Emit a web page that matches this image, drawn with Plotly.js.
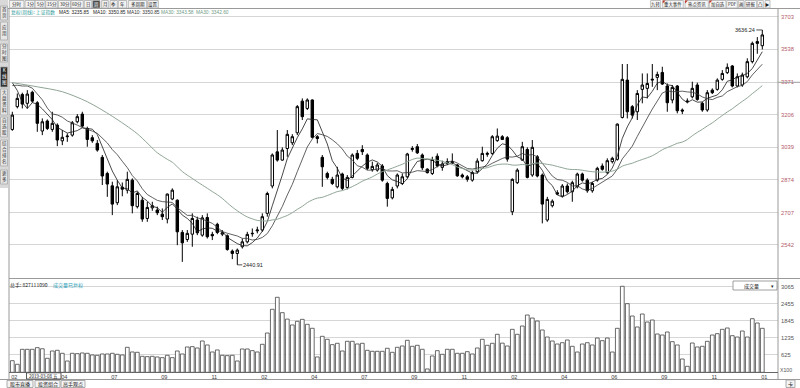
<!DOCTYPE html>
<html><head><meta charset="utf-8">
<script src="https://cdn.plot.ly/plotly-3.0.1.min.js"></script>
<style>html,body{margin:0;padding:0;background:#fff;}#chart{width:800px;height:388px;}</style>
</head><body><div id="chart"></div>
<script>
// ---- weekly OHLC (上证指数, weekly) ----
const open = [3130,3246,3308,3263,3319,3266,3122,3173,3130,3152,
3072,3093,3101,3169,3208,3135,3088,3059,2988,2906,
2843,2757,2836,2821,2872,2737,2770,2677,2731,2720,
2699,2674,2776,2770,2606,2570,2597,2669,2592,2682,
2596,2647,2597,2589,2511,2499,2533,2558,2599,2614,
2618,2703,2842,3016,2974,3033,3062,3113,3274,3237,
3280,3093,2988,2906,2876,2838,2903,2835,2886,3008,
3028,3000,2925,2923,2944,2855,2782,2842,2855,2889,
3028,3042,3000,2928,2906,2994,2937,2957,2961,2949,
2898,2889,2872,2915,2971,3003,3008,3073,3093,3088,
2711,2859,2974,3028,2898,2991,2898,2669,2742,2808,
2791,2842,2813,2838,2903,2872,2818,2872,2944,2910,
2966,2978,3191,3381,3246,3220,3334,3339,3381,3395,
3420,3351,3280,3351,3229,3271,3296,3356,3263,3229,
3330,3334,3385,3419,3453,3351,3356,3398,3475,3577,3556];
const high = [3220,3313,3317,3330,3327,3274,3186,3181,3220,3161,
3127,3110,3173,3208,3220,3144,3101,3076,3000,2915,
2864,2872,2860,2915,2881,2813,2787,2762,2762,2737,
2728,2804,2830,2774,2618,2618,2703,2686,2694,2703,
2609,2655,2618,2596,2519,2524,2575,2609,2626,2635,
2703,2813,3008,3127,3039,3127,3106,3254,3288,3288,
3283,3101,3000,2915,2889,2940,2910,2898,3008,3025,
3050,3008,2966,2960,2954,2864,2838,2906,2906,3011,
3045,3056,3008,2932,2991,3008,2971,2983,3008,2954,
2906,2898,2920,2983,3042,3017,3101,3135,3101,3096,
2881,2932,3067,3039,3076,3000,2906,2787,2774,2821,
2852,2855,2869,2910,2910,2881,2864,2940,2957,2983,
2991,3161,3463,3463,3254,3330,3415,3415,3463,3424,
3449,3364,3356,3356,3237,3288,3373,3368,3271,3330,
3339,3390,3432,3466,3458,3415,3419,3492,3577,3600,3636.24];
const low = [3123,3237,3237,3237,3266,3118,3101,3127,3118,3045,
3050,3067,3093,3161,3140,3042,3062,3017,2847,2787,
2694,2745,2790,2804,2703,2728,2660,2660,2716,2694,
2669,2652,2770,2541,2456,2558,2533,2592,2584,2575,
2567,2597,2587,2513,2470,2440.91,2524,2550,2584,2601,
2609,2686,2830,2966,2971,2991,3050,3101,3178,3229,
3084,3059,2838,2876,2847,2830,2821,2825,2881,2974,
3000,2923,2915,2915,2864,2737,2774,2830,2847,2881,
3017,3005,2923,2906,2898,2937,2920,2949,2954,2889,
2881,2864,2864,2906,2966,2991,3000,3067,3076,2966,
2694,2852,2971,2881,2889,2886,2652,2660,2733,2796,
2784,2804,2762,2830,2864,2808,2808,2864,2920,2903,
2957,2971,3186,3186,3186,3178,3263,3288,3347,3330,
3356,3220,3263,3212,3208,3263,3288,3276,3220,3220,
3310,3327,3378,3412,3344,3344,3347,3390,3466,3515,3537];
const close = [3203,3288,3259,3310,3274,3161,3169,3135,3161,3076,
3090,3096,3164,3195,3147,3079,3072,3025,2893,2852,
2750,2838,2826,2876,2742,2804,2674,2733,2742,2706,
2686,2801,2821,2609,2553,2601,2677,2604,2680,2584,
2589,2606,2604,2519,2499,2516,2558,2596,2601,2618,
2686,2804,3000,2974,3025,3105,3093,3246,3195,3280,
3090,3084,2940,2886,2855,2898,2830,2886,3000,2983,
3017,2932,2942,2949,2872,2779,2825,2898,2889,3005,
3033,3011,2935,2910,2977,2944,2954,2966,2966,2894,
2889,2876,2910,2969,3008,3008,3093,3096,3079,2979,
2876,2923,3042,2886,3039,2893,2750,2774,2765,2801,
2842,2813,2859,2903,2872,2818,2855,2932,2927,2971,
2983,3157,3385,3220,3203,3313,3356,3364,3385,3410,
3361,3266,3344,3225,3224,3274,3339,3283,3229,3317,
3317,3381,3415,3446,3351,3398,3407,3475,3568,3568,3611];
// weekly volume (x100 units on the axis)
const volume = [417,287,825,825,825,885,845,503,765,790,
682,406,682,670,694,682,622,610,658,658,
682,646,622,897,730,718,574,562,574,550,
526,610,526,765,658,909,921,873,1124,981,
730,802,610,598,610,406,837,837,778,730,
1005,1411,2262,2693,2141,1910,1699,1831,1902,1722,
1580,551,1292,1185,993,1041,765,1113,1113,1017,
1041,790,754,754,754,862,718,898,945,1149,
933,969,826,120,586,777,646,826,826,682,
682,741,658,873,1185,969,1041,1364,1047,945,
1543,1364,1662,2057,1949,1842,1519,1267,1124,1016,
1063,1160,933,729,1016,1063,981,1231,1136,1231,
729,1579,3088,2464,2021,1627,2093,1806,1878,1375,
1339,1447,1100,981,477,215,1052,909,933,1112,
1339,1387,1543,1591,1315,1267,1483,1267,1925,1770,1579];
// moving-average values visible before enough weeks exist
const ma5Lead = [3368,3328,3268,3236];
const ma10Lead = [3353,3355,3351,3351,3340,3313,3281,3239,3209];
const ma30LeadIdx = [0,5,10,15,20,25];
const ma30Lead = [3368,3347,3322,3271,3197,3108];
// axis labels
const tickIdx = [0,10,20,30,40,50,60,70,80,90,100,110,120,130,140,150];
const tickText = ['02','04','07','09','11','02','04','07','09','11','02','04','06','09','11','01'];
const priceTicks = [2542,2707,2874,3039,3206,3371,3538,3703];
const volTicks = [625,1235,1845,2455,3065];
const highMark = [150, 3636.24];
const lowMark = [45, 2440.91];

const weeks = close.map((_, i) => i);
function movingAvg(n, lead) {
  return close.map((_, i) => {
    if (i >= n - 1) { let s = 0; for (let k = i - n + 1; k <= i; k++) s += close[k]; return s / n; }
    return lead[i] !== undefined ? lead[i] : null;
  });
}
const ma5 = movingAvg(5, ma5Lead);
const ma10 = movingAvg(10, ma10Lead);
const ma30full = movingAvg(30, []);
const ma30x = ma30LeadIdx.concat(weeks.slice(29));
const ma30y = ma30Lead.concat(ma30full.slice(29));

const W = 800, H = 388;
const px = v => v / W, py = v => 1 - v / H;
const NUM = 'Liberation Sans, Arial, sans-serif';
const CJK = 'Noto Sans CJK SC, Liberation Sans, sans-serif';

const traces = [
  {type:'candlestick', x:weeks, open:open, high:high, low:low, close:close, xaxis:'x', yaxis:'y',
   increasing:{line:{color:'#000', width:1}, fillcolor:'#ffffff'},
   decreasing:{line:{color:'#000', width:1}, fillcolor:'#000000'},
   whiskerwidth:0, hoverinfo:'skip', showlegend:false},
  {type:'scatter', mode:'lines', x:weeks, y:ma5, xaxis:'x', yaxis:'y', line:{color:'#1a1a1a', width:0.8}, hoverinfo:'skip', showlegend:false},
  {type:'scatter', mode:'lines', x:weeks, y:ma10, xaxis:'x', yaxis:'y', line:{color:'#3a3a3a', width:0.8}, hoverinfo:'skip', showlegend:false},
  {type:'scatter', mode:'lines', x:ma30x, y:ma30y, xaxis:'x', yaxis:'y', line:{color:'#8fa596', width:1, shape:'spline', smoothing:0.8}, hoverinfo:'skip', showlegend:false},
  {type:'bar', x:weeks, y:volume, xaxis:'x2', yaxis:'y2', marker:{color:'#ffffff', line:{color:'#444', width:0.8}}, hoverinfo:'skip', showlegend:false}
];

const shapes = [];
const annotations = [];
function line(x0,y0,x1,y1,color,w){ shapes.push({type:'line', xref:'paper', yref:'paper', x0:px(x0), y0:py(y0), x1:px(x1), y1:py(y1), line:{color:color||'#999', width:w||1}}); }
function rect(x0,y0,x1,y1,fill,border){ shapes.push({type:'rect', xref:'paper', yref:'paper', x0:px(x0), y0:py(y0), x1:px(x1), y1:py(y1), fillcolor:fill||'rgba(0,0,0,0)', line:{color:border||'rgba(0,0,0,0)', width:border?0.8:0}, layer:'above'}); }
function txt(x,y,t,o){ o=o||{}; annotations.push({xref:'paper', yref:'paper', x:px(x), y:py(y), text:t, showarrow:false, xanchor:o.xa||'left', yanchor:'middle', borderpad:0, font:{family:o.f||CJK, size:o.s||5.5, color:o.c||'#333'}}); }

// frame lines
line(0, 8.5, 800, 8.5, '#9a9a9a', 1);
line(9, 8, 9, 380, '#9a9a9a', 1);
line(778, 8, 778, 380, '#9a9a9a', 1);
line(9, 278.5, 800, 278.5, '#9a9a9a', 1);
line(9, 372.5, 778, 372.5, '#666', 1);
line(0, 379.5, 800, 379.5, '#9a9a9a', 1);
line(778, 82.3, 800, 82.3, '#9a9a9a', 1);

// top-left toolbar
const tb = [['分时',9.3,24],['1分',25,35],['5分',35,45],['15分',45.7,57.3],['30分',58.3,70.7],['60分',71,83.3],['日',84.3,91.7],['周',92.7,100],['月',101.7,108.3],['季',110,117.3],['年',118.3,126.7],['多周期',128.3,146.7],['设置',147.7,158.3]];
tb.forEach(b => {
  const sel = b[0] === '周';
  rect(b[1], 0.5, b[2], 8, sel ? '#4a4a4a' : '#f2f2f2', '#a8a8a8');
  txt((b[1]+b[2])/2, 4.4, b[0], {xa:'center', s:4.5, c: sel ? '#fff' : '#222'});
});
// top-right toolbar
const rb = [['九转',650.7,660.7],['重大事件',662.7,683.3],['热点资讯',685,708.3],['加自选',709.3,726],['PDF',726.7,737.3],['画',738.3,744],['研报',745,756.7],['凸',757.3,763.3],['▶',765,770]];
rb.forEach(b => {
  rect(b[1], 0.5, b[2], 8, '#f7f7f7', '#b0b0b0');
  txt((b[1]+b[2])/2, 4.4, b[0], {xa:'center', s:4.4, c:'#222'});
});
[662.7,685,709.3].forEach(x => shapes.push({type:'path', xref:'paper', yref:'paper', path:`M ${px(x)} ${py(0.5)} L ${px(x+3)} ${py(0.5)} L ${px(x)} ${py(3.5)} Z`, fillcolor:'#c0392b', line:{width:0}}));

// left vertical tabs
rect(0, 0, 8, 188, '#d9d9d9', null);
const lt = [['首页',6,20],['应用',22,40],['分时图',44,62],['K线图',67,87],['大盘资料',89,115],['自选股',117,137],['综合排名',140,166],['更多',170,184]];
lt.forEach(t => {
  const sel = t[0] === 'K线图';
  rect(0.5, t[1], 7.5, t[2], sel ? '#2b2b2b' : '#e6e6e6', '#aaaaaa');
  annotations.push({xref:'paper', yref:'paper', x:px(4), y:py((t[1]+t[2])/2), text:t[0].split('').join('<br>'), showarrow:false, xanchor:'center', yanchor:'middle', borderpad:0, font:{family:CJK, size:4.6, color: sel ? '#fff' : '#333'}});
});

// header readout
txt(9.5, 12.5, '复权(周线): 上证指数', {s:4.8, c:'#2e9a9a'});
txt(57.5, 12.5, 'MA5: 3235.85', {f:NUM, s:4.8, c:'#222'});
txt(92, 12.5, 'MA10: 3350.85', {f:NUM, s:4.8, c:'#222'});
txt(125.5, 12.5, 'MA10: 3350.85', {f:NUM, s:4.8, c:'#333'});
txt(160, 12.5, 'MA30: 3343.58', {f:NUM, s:4.8, c:'#6f9a84'});
txt(195, 12.5, 'MA30: 3342.60', {f:NUM, s:4.8, c:'#6f9a84'});

// volume header
txt(8.5, 284.5, '总手: 827111090', {s:5, c:'#222'});
txt(52, 284.5, '成交量已复权', {s:5, c:'#2aa0b8'});
rect(733, 281, 777, 290, '#ffffff', '#888');
txt(751, 285.5, '成交量', {xa:'center', s:5, c:'#222'});
txt(772, 285.5, '▾', {xa:'center', s:5, c:'#222'});
txt(779, 369.5, 'X100', {f:NUM, s:5.2, c:'#555'});

// crosshair date box
rect(26.5, 372.8, 61, 379, '#ffffff', '#333');
txt(43.8, 376, '2019-03-08 五', {xa:'center', s:4.5, c:'#111'});

// bottom tabs
[['股市直播',7,33],['投资组合',35,60],['高手观点',61,85]].forEach(t => {
  rect(t[1], 380.5, t[2], 387.5, '#f4f4f4', '#999');
  txt((t[1]+t[2])/2, 384, t[0], {xa:'center', s:5, c:'#222'});
});
rect(786, 380, 795, 387.5, '#f4f4f4', '#999');
txt(790.5, 384, '卡', {xa:'center', s:5, c:'#222'});

// high / low markers
annotations.push({xref:'x', yref:'y', x:highMark[0], y:highMark[1], text:String(highMark[1]), showarrow:true, arrowhead:0, arrowwidth:0.8, arrowcolor:'#222', ax:-6, ay:0, xanchor:'right', yanchor:'middle', borderpad:0, font:{family:NUM, size:5.5, color:'#222'}});
annotations.push({xref:'x', yref:'y', x:lowMark[0], y:lowMark[1], text:String(lowMark[1]), showarrow:true, arrowhead:0, arrowwidth:0.8, arrowcolor:'#222', ax:5, ay:0, xanchor:'left', yanchor:'middle', borderpad:0, font:{family:NUM, size:5.5, color:'#222'}});

const layout = {
  width:W, height:H, margin:{l:0, r:0, t:0, b:0}, paper_bgcolor:'#fff', plot_bgcolor:'#fff',
  showlegend:false, bargap:0.25, boxgap:0.3,
  xaxis:{domain:[px(9), px(778)], range:[-0.66, 153.14], anchor:'y', showticklabels:false, showgrid:false, zeroline:false, showline:false, ticks:'', rangeslider:{visible:false}, fixedrange:true},
  yaxis:{domain:[py(278), py(8)], range:[2374, 3748], anchor:'x', side:'right', tickvals:priceTicks, ticktext:priceTicks.map(String), tickfont:{family:NUM, size:5.8, color:'#b45b6b'}, showgrid:true, gridcolor:'#d6d6d6', gridwidth:1, zeroline:false, ticks:'', ticklabelstandoff:2, fixedrange:true},
  xaxis2:{domain:[px(9), px(778)], range:[-0.66, 153.14], anchor:'y2', matches:'x', tickvals:tickIdx.map(v => v + 0.4), ticktext:tickText, tickfont:{family:NUM, size:5.6, color:'#444'}, showgrid:false, zeroline:false, showline:false, ticks:'', ticklabelstandoff:0, fixedrange:true},
  yaxis2:{domain:[py(372.3), py(280)], range:[0, 3314], anchor:'x2', side:'right', tickvals:volTicks, ticktext:volTicks.map(String), tickfont:{family:NUM, size:5.8, color:'#555'}, showgrid:true, gridcolor:'#d6d6d6', gridwidth:1, zeroline:false, ticks:'', ticklabelstandoff:2, fixedrange:true},
  shapes:shapes, annotations:annotations
};
Plotly.newPlot('chart', traces, layout, {staticPlot:true, displayModeBar:false});
</script></body></html>
